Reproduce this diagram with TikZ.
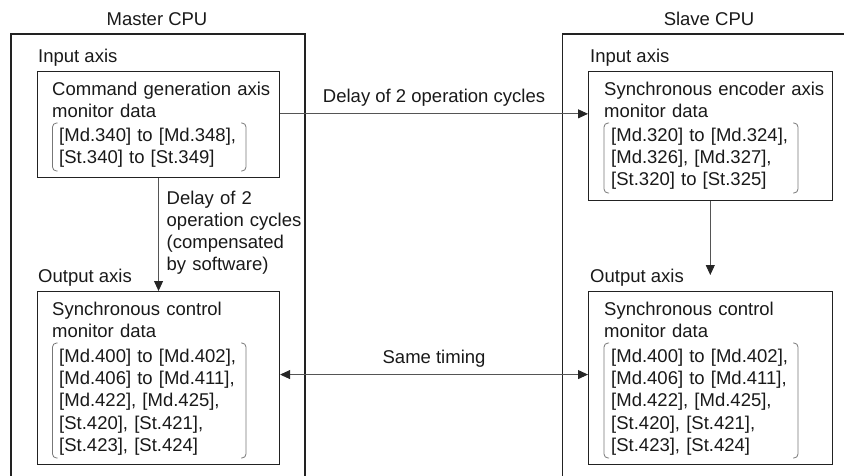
\documentclass[tikz,border=0pt]{standalone}
\usepackage{fontspec}
\setmainfont{Liberation Sans}
\usetikzlibrary{arrows.meta, calc, positioning}
\definecolor{frame}{HTML}{222222}
\definecolor{link}{HTML}{555555}

% bracket pair round a data list: left x, right x, top y, bottom y
\newcommand{\databrace}[4]{%
  \draw[brace] (#1+5,#3) -- (#1,#3) -- (#1,#4) -- (#1+5,#4);
  \draw[brace] (#2-5,#3) -- (#2,#3) -- (#2,#4) -- (#2-5,#4);
}

\begin{document}
\begin{tikzpicture}[x=1pt, y=-1pt,
  every node/.style={font=\fontsize{18.5}{22.2}\selectfont, inner sep=0pt, text=black!90},
  cpuframe/.style={draw=frame, line width=1.1pt},
  databox/.style={draw=frame, line width=1.1pt, anchor=north west, minimum width=242pt},
  boxtext/.style={anchor=base west, align=left, text width=235pt},
  brace/.style={link!80, line width=0.8pt, rounded corners=4pt},
  arrow/.style={link, line width=0.9pt, -{Triangle[length=10pt, width=9pt, color=black!85]}},
  twoway/.style={link, line width=0.9pt,
    {Triangle[length=10pt, width=9pt, color=black!85]}-{Triangle[length=10pt, width=9pt, color=black!85]}}
]
  \useasboundingbox (0,0) rectangle (844,475);

  % CPU frames (cut off at the bottom / right)
  \node[anchor=base] (master) at (157,25) {Master CPU};
  \node[anchor=base] (slave) at (709,25) {Slave CPU};
  \draw[cpuframe] (11,476) |- (305,34) -- (305,476);
  \draw[cpuframe] (562.5,476) |- (846,34);

  \node[anchor=base west] (min) at (38,62) {Input axis};
  \node[anchor=base west] (sin) at (590,62) {Input axis};
  \node[anchor=base west] (mouttitle) at (38,282) {Output axis};
  \node[anchor=base west] (souttitle) at (590,282) {Output axis};

  % data boxes
  \node[databox, minimum height=106pt] (cmd) at (37,71) {};
  \node[databox, minimum width=243.5pt, minimum height=129pt] (enc) at (588,71) {};
  \node[databox, minimum height=173pt] (mout) at (37,291) {};
  \node[databox, minimum width=243.5pt, minimum height=173pt] (sout) at (588,291) {};

  \node[boxtext] (cmdname) at (52,95) {Command generation axis\\monitor data};
  \node[boxtext] (cmdlist) at (59,141) {[Md.340] to [Md.348],\\{[St.340]} to [St.349]};
  \databrace{52.5}{246}{123}{171}

  \node[boxtext] (encname) at (604,95) {Synchronous encoder axis\\monitor data};
  \node[boxtext] (enclist) at (611,141) {[Md.320] to [Md.324],\\{[Md.326]}, [Md.327],\\{[St.320]} to [St.325]};
  \databrace{604}{798}{123}{193}

  \node[boxtext] (moutname) at (52,315) {Synchronous control\\monitor data};
  \node[boxtext] (moutlist) at (59,362.5) {[Md.400] to [Md.402],\\{[Md.406]} to [Md.411],\\{[Md.422]}, [Md.425],\\{[St.420]}, [St.421],\\{[St.423]}, [St.424]};
  \databrace{52.5}{246}{343}{458}

  \node[boxtext] (soutname) at (604,315) {Synchronous control\\monitor data};
  \node[boxtext] (soutlist) at (611,362.5) {[Md.400] to [Md.402],\\{[Md.406]} to [Md.411],\\{[Md.422]}, [Md.425],\\{[St.420]}, [St.421],\\{[St.423]}, [St.424]};
  \databrace{604}{798}{343}{458}

  % transfers
  \draw[arrow] ($(cmd.north east)!.4!(cmd.south east)$) coordinate (d1) -- (d1 -| enc.west)
    node[midway, above=7pt] (delaylbl) {Delay of 2 operation cycles};
  \draw[arrow] (cmd) -- (mout);
  \node[boxtext, text width=140pt] (lagnote) at (166.5,204) {Delay of 2\\operation cycles\\(compensated\\by software)};
  \draw[arrow, shorten >=16pt] (enc) -- (sout);
  \draw[twoway] ($(mout.north east)!.48!(mout.south east)$) coordinate (d2) -- (d2 -| sout.west)
    node[midway, above=7pt] (samelbl) {Same timing};
\end{tikzpicture}
\end{document}
